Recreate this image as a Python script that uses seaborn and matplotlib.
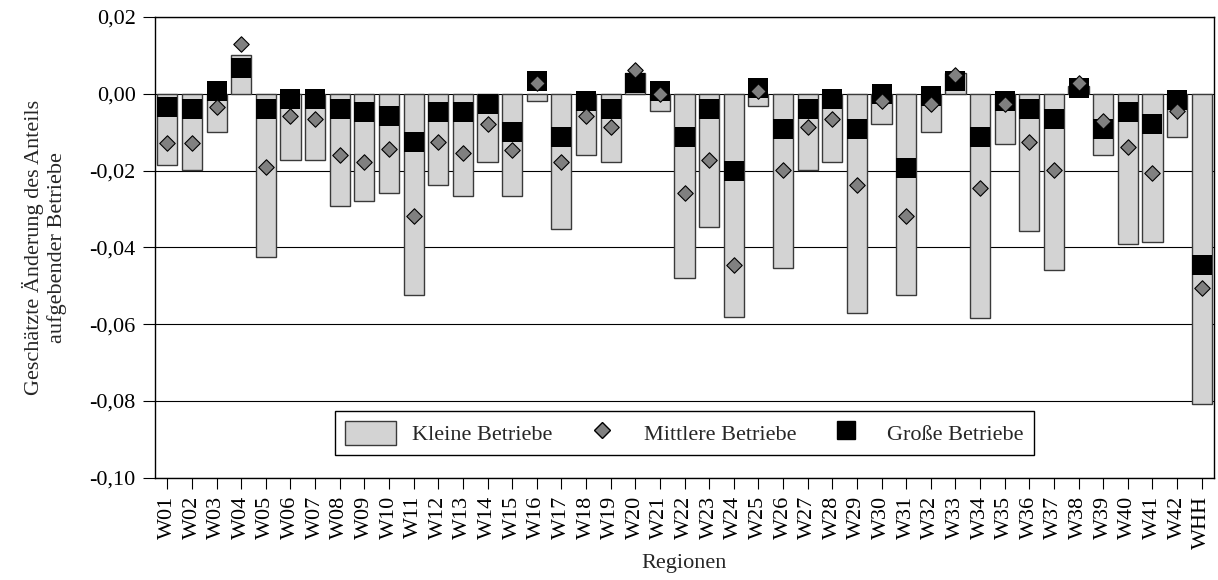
import matplotlib
matplotlib.use("Agg")
import matplotlib.pyplot as plt
from matplotlib.patches import Patch
from matplotlib.lines import Line2D
import seaborn as sns

# Regionen und geschaetzte Aenderungen
regions = ['W01', 'W02', 'W03', 'W04', 'W05', 'W06', 'W07', 'W08', 'W09', 'W10',
           'W11', 'W12', 'W13', 'W14', 'W15', 'W16', 'W17', 'W18', 'W19', 'W20',
           'W21', 'W22', 'W23', 'W24', 'W25', 'W26', 'W27', 'W28', 'W29', 'W30',
           'W31', 'W32', 'W33', 'W34', 'W35', 'W36', 'W37', 'W38', 'W39', 'W40',
           'W41', 'W42', 'WHH']

klein = [-0.0185, -0.0199, -0.0099, 0.0100, -0.0425, -0.0172, -0.0172, -0.0292, -0.0279, -0.0258,
         -0.0525, -0.0238, -0.0265, -0.0179, -0.0266, -0.0020, -0.0353, -0.0159, -0.0179, 0.0053,
         -0.0046, -0.0479, -0.0346, -0.0582, -0.0033, -0.0453, -0.0199, -0.0179, -0.0572, -0.0079,
         -0.0525, -0.0099, 0.0053, -0.0585, -0.0132, -0.0357, -0.0459, 0.0020, -0.0159, -0.0392,
         -0.0386, -0.0113, -0.0807]

mittel = [-0.0127, -0.0127, -0.0034, 0.0129, -0.0192, -0.0059, -0.0065, -0.0159, -0.0179, -0.0145,
          -0.0318, -0.0126, -0.0153, -0.0079, -0.0146, 0.0027, -0.0179, -0.0059, -0.0086, 0.0062,
          0.0000, -0.0259, -0.0173, -0.0446, 0.0007, -0.0199, -0.0086, -0.0066, -0.0238, -0.0019,
          -0.0318, -0.0026, 0.0049, -0.0246, -0.0026, -0.0126, -0.0199, 0.0027, -0.0072, -0.0139,
          -0.0206, -0.0046, -0.0505]

gross = [-0.0034, -0.0040, 0.0007, 0.0067, -0.0039, -0.0013, -0.0013, -0.0039, -0.0047, -0.0059,
         -0.0126, -0.0047, -0.0047, -0.0027, -0.0100, 0.0034, -0.0113, -0.0020, -0.0039, 0.0027,
         0.0007, -0.0113, -0.0039, -0.0200, 0.0014, -0.0093, -0.0039, -0.0013, -0.0093, 0.0000,
         -0.0193, -0.0007, 0.0034, -0.0113, -0.0020, -0.0039, -0.0066, 0.0014, -0.0093, -0.0047,
         -0.0080, -0.0015, -0.0446]

yticks = [-0.10, -0.08, -0.06, -0.04, -0.02, 0.00, 0.02]
ytick_labels = ['-0,10', '-0,08', '-0,06', '-0,04', '-0,02', '0,00', '0,02']

sns.set_style('white')
plt.rcParams['font.family'] = ['Liberation Serif', 'DejaVu Serif']
plt.rcParams['font.size'] = 16

fig, ax = plt.subplots(figsize=(12.18, 5.8), dpi=100)
fig.subplots_adjust(left=0.1273, right=0.9967, top=0.9707, bottom=0.1764)

# Balken: kleine Betriebe
sns.barplot(x=regions, y=klein, color='#d3d3d3', saturation=1, width=0.82,
            edgecolor='#3a3a3a', linewidth=1, errorbar=None, ax=ax, zorder=2)

# Quadrate: grosse Betriebe
sns.scatterplot(x=regions, y=gross, marker='s', color='black', s=190,
                linewidth=0, legend=False, ax=ax, zorder=3)

# Rauten: mittlere Betriebe
sns.scatterplot(x=regions, y=mittel, marker='D', color='#808080', s=62,
                edgecolor='black', linewidth=0.8, legend=False, ax=ax, zorder=4)

ax.set_ylim(-0.10, 0.02)
ax.set_xlim(-0.5, len(regions) - 0.5)
ax.set_yticks(yticks)
ax.set_yticklabels(ytick_labels)
ax.tick_params(axis='x', rotation=90, bottom=True, length=8, width=0.8, pad=5, colors='black')
ax.tick_params(axis='y', left=True, length=9, width=0.8, pad=5, colors='black')

ax.yaxis.grid(True, color='black', linewidth=0.8)
ax.set_axisbelow(True)
for s in ax.spines.values():
    s.set_visible(True)
    s.set_color('black')
    s.set_linewidth(1)

ax.set_xlabel('Regionen', labelpad=4)
ax.set_ylabel('Geschätzte Änderung des Anteils\naufgebender Betriebe', labelpad=16)

handles = [
    Patch(facecolor='#d3d3d3', edgecolor='#3a3a3a', linewidth=1),
    Line2D([], [], marker='D', color='none', markerfacecolor='#808080',
           markeredgecolor='black', markersize=8),
    Line2D([], [], marker='s', color='none', markerfacecolor='black',
           markeredgecolor='black', markersize=13),
]
leg = ax.legend(handles, ['Kleine Betriebe', 'Mittlere Betriebe', 'Große Betriebe'],
                loc='lower center', bbox_to_anchor=(0.5, 0.025), ncol=3,
                frameon=True, fancybox=False, framealpha=1, edgecolor='black',
                handlelength=2.3, handleheight=1.3, handletextpad=0.7,
                columnspacing=1.1, borderpad=0.45, fontsize=16)
leg.get_frame().set_linewidth(1)

fig.savefig('out.png', dpi=100)
